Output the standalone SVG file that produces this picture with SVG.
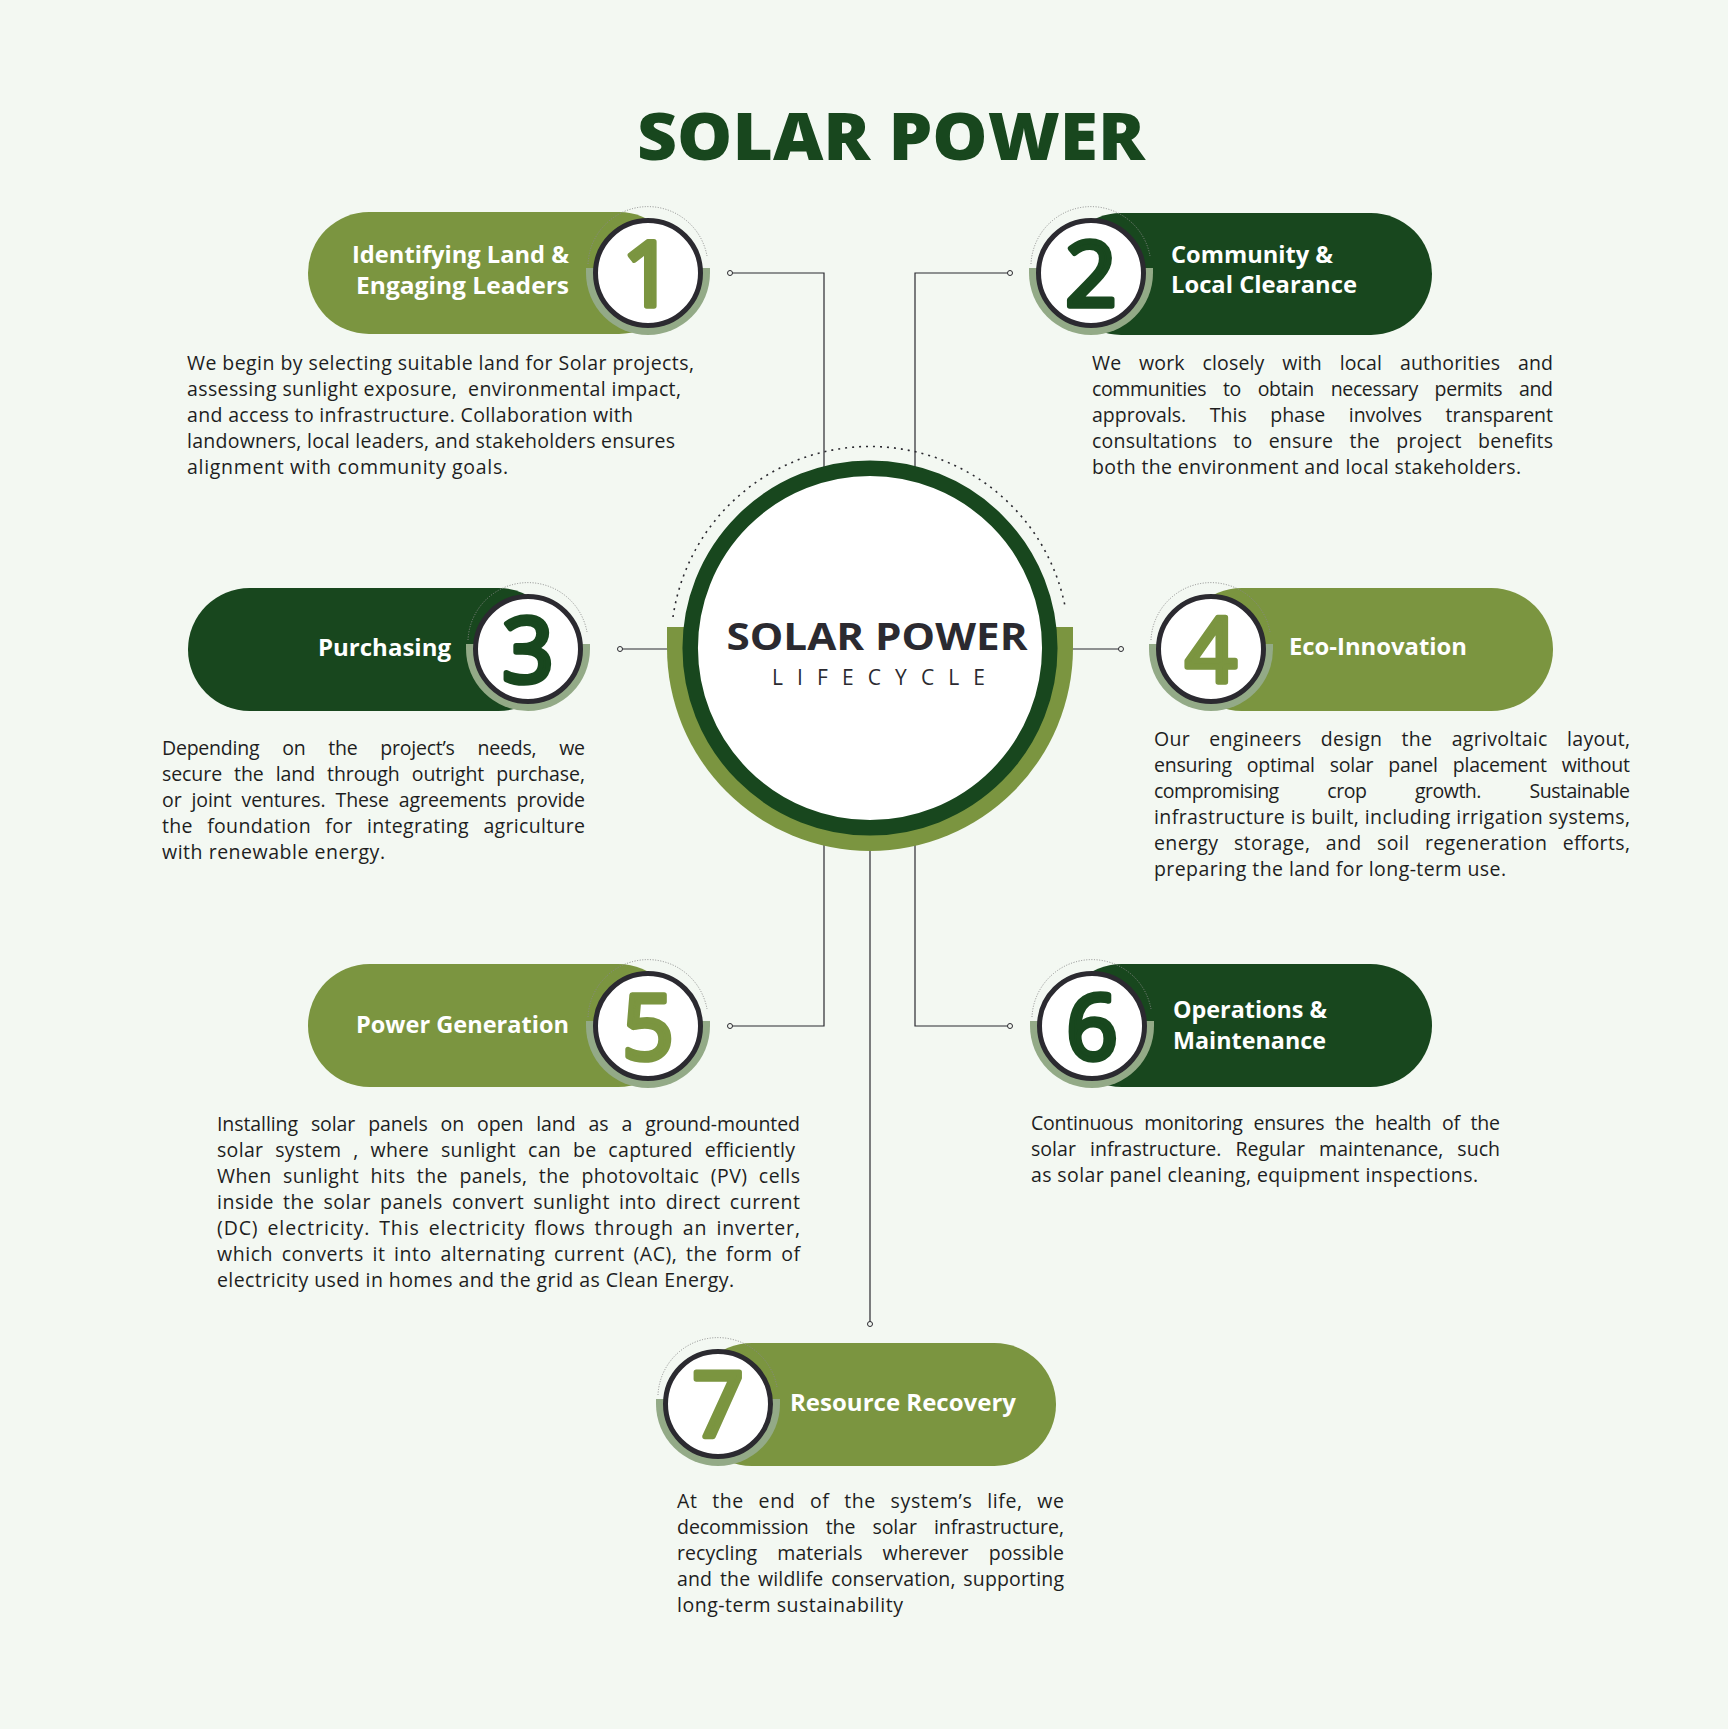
<svg xmlns="http://www.w3.org/2000/svg" width="1728" height="1729" viewBox="0 0 1728 1729">
<style>
.bg{fill:#f3f8f2}
.olive{fill:#7b9540}
.dark{fill:#18471e}
.shadow{fill:#93aa87}
.ring{fill:#ffffff;stroke:#2b2a30;stroke-width:5}
.dots{fill:none;stroke:#8a8a8a;stroke-width:1;stroke-dasharray:1 1.6}
.num{font-family:"Open Sans","Liberation Sans",sans-serif;font-weight:400;font-size:90px;text-anchor:middle;stroke-width:5.5;stroke-linejoin:round;stroke-linecap:round}
.num.o{fill:#7b9540;stroke:#7b9540}
.num.d{fill:#18471e;stroke:#18471e}
.lbl{font-family:"Open Sans","Liberation Sans",sans-serif;font-weight:700;font-size:22.5px;fill:#ffffff}
.desc{font-family:"Open Sans","Liberation Sans",sans-serif;font-size:19.5px;fill:#1e1e1e}
.conn{fill:none;stroke:#2b2a30;stroke-width:1.2}
.end{fill:#f3f8f2;stroke:#2b2a30;stroke-width:1}
</style>
<rect class="bg" x="0" y="0" width="1728" height="1729"/>

<text x="637" y="160" textLength="508" lengthAdjust="spacingAndGlyphs" style="font-family:'Open Sans','Liberation Sans',sans-serif;font-weight:800;font-size:65px;fill:#18471e">SOLAR POWER</text>

<g id="connectors">
<path class="conn" d="M730 273 H824 V520"/>
<path class="conn" d="M1010 273 H915 V520"/>
<path class="conn" d="M620 649 H700"/>
<path class="conn" d="M1040 649 H1121"/>
<path class="conn" d="M730 1026 H824 V780"/>
<path class="conn" d="M1010 1026 H915 V780"/>
<path class="conn" d="M870 780 V1324"/>
<circle class="end" cx="730" cy="273" r="2.5"/>
<circle class="end" cx="1010" cy="273" r="2.5"/>
<circle class="end" cx="620" cy="649" r="2.5"/>
<circle class="end" cx="1121" cy="649" r="2.5"/>
<circle class="end" cx="730" cy="1026" r="2.5"/>
<circle class="end" cx="1010" cy="1026" r="2.5"/>
<circle class="end" cx="870" cy="1324" r="2.5"/>
</g>

<g id="center">
<path d="M673 617 A199 199 0 0 1 1065 606" fill="none" stroke="#2b2a30" stroke-width="1.6" stroke-dasharray="2 5"/>
<path class="olive" d="M667 627 H1073 V648 A203 203 0 0 1 667 648 Z"/>
<circle cx="870" cy="648" r="179.8" fill="#ffffff" stroke="#18471e" stroke-width="15.5"/>
<text x="877" y="650" text-anchor="middle" textLength="301" lengthAdjust="spacingAndGlyphs" style="font-family:'Open Sans','Liberation Sans',sans-serif;font-weight:700;font-size:38px;fill:#2b2a30">SOLAR POWER</text>
<text x="772" y="685" textLength="213" lengthAdjust="spacing" style="font-family:'Open Sans','Liberation Sans',sans-serif;font-weight:400;font-size:21px;fill:#2b2a30">LIFECYCLE</text>
</g>

<g id="node1">
<rect class="olive" x="308" y="212" width="372" height="122" rx="61"/>
<path class="shadow" d="M586 268 H710 V273 A62 62 0 0 1 586 273 Z"/>
<path class="dots" d="M588 264 A60 60 0 0 1 707 256"/>
<circle class="ring" cx="648" cy="273" r="52.5"/>
<text class="num o" x="648" y="306">1</text>
<text class="lbl" x="569" y="263" text-anchor="end" textLength="217" lengthAdjust="spacingAndGlyphs">Identifying Land &amp;</text>
<text class="lbl" x="569" y="294" text-anchor="end" textLength="213" lengthAdjust="spacingAndGlyphs">Engaging Leaders</text>
<text class="desc" x="187" y="370" textLength="507" lengthAdjust="spacing">We begin by selecting suitable land for Solar projects,</text>
<text class="desc" x="187" y="396" textLength="494" lengthAdjust="spacing" xml:space="preserve">assessing sunlight exposure,  environmental impact,</text>
<text class="desc" x="187" y="422" textLength="446" lengthAdjust="spacing">and access to infrastructure. Collaboration with</text>
<text class="desc" x="187" y="448" textLength="488" lengthAdjust="spacing">landowners, local leaders, and stakeholders ensures</text>
<text class="desc" x="187" y="474" textLength="321" lengthAdjust="spacing">alignment with community goals.</text>
</g>

<g id="node2">
<rect class="dark" x="1060" y="213" width="372" height="122" rx="61"/>
<path class="shadow" d="M1029 268 H1153 V273 A62 62 0 0 1 1029 273 Z"/>
<path class="dots" d="M1031 264 A60 60 0 0 1 1150 256"/>
<circle class="ring" cx="1091" cy="273" r="52.5"/>
<text class="num d" x="1091" y="306">2</text>
<text class="lbl" x="1171" y="263" textLength="162" lengthAdjust="spacingAndGlyphs">Community &amp;</text>
<text class="lbl" x="1171" y="293" textLength="186" lengthAdjust="spacingAndGlyphs">Local Clearance</text>
<text class="desc" x="1092" y="370" textLength="461" lengthAdjust="spacing" word-spacing="12.5">We work closely with local authorities and</text>
<text class="desc" x="1092" y="396" textLength="461" lengthAdjust="spacing" word-spacing="12">communities to obtain necessary permits and</text>
<text class="desc" x="1092" y="422" textLength="461" lengthAdjust="spacing" word-spacing="18.5">approvals. This phase involves transparent</text>
<text class="desc" x="1092" y="448" textLength="461" lengthAdjust="spacing" word-spacing="11">consultations to ensure the project benefits</text>
<text class="desc" x="1092" y="474" textLength="429" lengthAdjust="spacing">both the environment and local stakeholders.</text>
</g>

<g id="node3">
<rect class="dark" x="188" y="588" width="372" height="123" rx="61.5"/>
<path class="shadow" d="M466 644 H590 V649 A62 62 0 0 1 466 649 Z"/>
<path class="dots" d="M468 640 A60 60 0 0 1 587 632"/>
<circle class="ring" cx="528" cy="649" r="52.5"/>
<text class="num d" x="528" y="682">3</text>
<text class="lbl" x="451" y="656" text-anchor="end" textLength="133" lengthAdjust="spacingAndGlyphs">Purchasing</text>
<text class="desc" x="162" y="755" textLength="423" lengthAdjust="spacing" word-spacing="18">Depending on the project’s needs, we</text>
<text class="desc" x="162" y="781" textLength="423" lengthAdjust="spacing" word-spacing="7">secure the land through outright purchase,</text>
<text class="desc" x="162" y="807" textLength="423" lengthAdjust="spacing" word-spacing="5">or joint ventures. These agreements provide</text>
<text class="desc" x="162" y="833" textLength="423" lengthAdjust="spacing" word-spacing="9">the foundation for integrating agriculture</text>
<text class="desc" x="162" y="859" textLength="223" lengthAdjust="spacing">with renewable energy.</text>
</g>

<g id="node4">
<rect class="olive" x="1180" y="588" width="373" height="123" rx="61.5"/>
<path class="shadow" d="M1149 644 H1273 V649 A62 62 0 0 1 1149 649 Z"/>
<path class="dots" d="M1151 640 A60 60 0 0 1 1270 632"/>
<circle class="ring" cx="1211" cy="649" r="52.5"/>
<text class="num o" x="1211" y="682">4</text>
<text class="lbl" x="1289" y="655" textLength="178" lengthAdjust="spacingAndGlyphs">Eco-Innovation</text>
<text class="desc" x="1154" y="746" textLength="476" lengthAdjust="spacing" word-spacing="14">Our engineers design the agrivoltaic layout,</text>
<text class="desc" x="1154" y="772" textLength="476" lengthAdjust="spacing" word-spacing="10">ensuring optimal solar panel placement without</text>
<text class="desc" x="1154" y="798" textLength="476" lengthAdjust="spacing" word-spacing="44">compromising crop growth. Sustainable</text>
<text class="desc" x="1154" y="824" textLength="476" lengthAdjust="spacing">infrastructure is built, including irrigation systems,</text>
<text class="desc" x="1154" y="850" textLength="476" lengthAdjust="spacing" word-spacing="10">energy storage, and soil regeneration efforts,</text>
<text class="desc" x="1154" y="876" textLength="352" lengthAdjust="spacing">preparing the land for long-term use.</text>
</g>

<g id="node5">
<rect class="olive" x="308" y="964" width="372" height="123" rx="61.5"/>
<path class="shadow" d="M586 1021 H710 V1026 A62 62 0 0 1 586 1026 Z"/>
<path class="dots" d="M588 1017 A60 60 0 0 1 707 1009"/>
<circle class="ring" cx="648" cy="1026" r="52.5"/>
<text class="num o" x="648" y="1059">5</text>
<text class="lbl" x="569" y="1033" text-anchor="end" textLength="213" lengthAdjust="spacingAndGlyphs">Power Generation</text>
<text class="desc" x="217" y="1131" textLength="583" lengthAdjust="spacing" word-spacing="8">Installing solar panels on open land as a ground-mounted</text>
<text class="desc" x="217" y="1157" textLength="578" lengthAdjust="spacing" word-spacing="6.5">solar system , where sunlight can be captured efficiently</text>
<text class="desc" x="217" y="1183" textLength="583" lengthAdjust="spacing" word-spacing="6">When sunlight hits the panels, the photovoltaic (PV) cells</text>
<text class="desc" x="217" y="1209" textLength="583" lengthAdjust="spacing" word-spacing="3.5">inside the solar panels convert sunlight into direct current</text>
<text class="desc" x="217" y="1235" textLength="583" lengthAdjust="spacing" word-spacing="3">(DC) electricity. This electricity flows through an inverter,</text>
<text class="desc" x="217" y="1261" textLength="583" lengthAdjust="spacing" word-spacing="3">which converts it into alternating current (AC), the form of</text>
<text class="desc" x="217" y="1287" textLength="517" lengthAdjust="spacing">electricity used in homes and the grid as Clean Energy.</text>
</g>

<g id="node6">
<rect class="dark" x="1060" y="964" width="372" height="123" rx="61.5"/>
<path class="shadow" d="M1030 1021 H1154 V1026 A62 62 0 0 1 1030 1026 Z"/>
<path class="dots" d="M1032 1017 A60 60 0 0 1 1151 1009"/>
<circle class="ring" cx="1092" cy="1026" r="52.5"/>
<text class="num d" x="1092" y="1059">6</text>
<text class="lbl" x="1173" y="1018" textLength="154" lengthAdjust="spacingAndGlyphs">Operations &amp;</text>
<text class="lbl" x="1173" y="1049" textLength="153" lengthAdjust="spacingAndGlyphs">Maintenance</text>
<text class="desc" x="1031" y="1130" textLength="469" lengthAdjust="spacing" word-spacing="6">Continuous monitoring ensures the health of the</text>
<text class="desc" x="1031" y="1156" textLength="469" lengthAdjust="spacing" word-spacing="9">solar infrastructure. Regular maintenance, such</text>
<text class="desc" x="1031" y="1182" textLength="447" lengthAdjust="spacing">as solar panel cleaning, equipment inspections.</text>
</g>

<g id="node7">
<rect class="olive" x="690" y="1343" width="366" height="123" rx="61.5"/>
<path class="shadow" d="M656 1399 H780 V1404 A62 62 0 0 1 656 1404 Z"/>
<path class="dots" d="M658 1395 A60 60 0 0 1 777 1387"/>
<circle class="ring" cx="718" cy="1404" r="52.5"/>
<text class="num o" x="718" y="1437">7</text>
<text class="lbl" x="790" y="1411" textLength="226" lengthAdjust="spacingAndGlyphs">Resource Recovery</text>
<text class="desc" x="677" y="1508" textLength="387" lengthAdjust="spacing" word-spacing="9">At the end of the system’s life, we</text>
<text class="desc" x="677" y="1534" textLength="387" lengthAdjust="spacing" word-spacing="12">decommission the solar infrastructure,</text>
<text class="desc" x="677" y="1560" textLength="387" lengthAdjust="spacing" word-spacing="15">recycling materials wherever possible</text>
<text class="desc" x="677" y="1586" textLength="387" lengthAdjust="spacing" word-spacing="2.5">and the wildlife conservation, supporting</text>
<text class="desc" x="677" y="1612" textLength="226" lengthAdjust="spacing">long-term sustainability</text>
</g>
</svg>
